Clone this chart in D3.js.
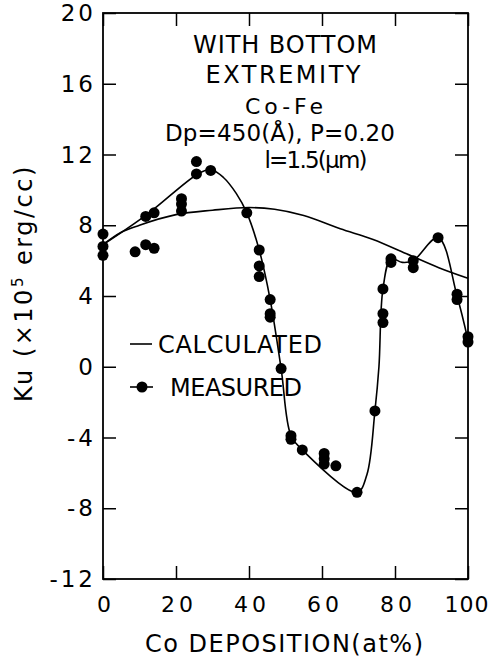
<!DOCTYPE html>
<html>
<head>
<meta charset="utf-8">
<script src="https://cdn.jsdelivr.net/npm/d3@7"></script>
<style>
  body { margin: 0; background: #fff; }
  text { font-family: 'DejaVu Sans', sans-serif; fill: #000; }
</style>
</head>
<body>
<div id="chart"></div>
<script>
// tick values
const xTicks = [0, 20, 40, 60, 80, 100]
const yTicks = [-12, -8, -4, 0, 4, 8, 12, 16, 20]

// measured points (Co at%, Ku x1e5 erg/cc)
const measuredX = [0, 0, 0, 8.8, 11.7, 14, 11.7, 14, 21.5, 21.5, 21.5, 25.6, 25.6, 29.5,
  39.4, 42.8, 42.8, 42.8, 45.8, 45.8, 45.8, 48.8, 51.5, 51.5, 54.6, 60.6, 60.6, 60.6,
  63.8, 69.6, 74.5, 76.7, 76.7, 76.7, 78.9, 78.9, 85, 85, 91.8, 97, 97, 100, 100]
const measuredY = [7.5, 6.8, 6.3, 6.5, 6.9, 6.7, 8.5, 8.7, 9.5, 9.2, 8.8, 11.6, 10.9, 11.1,
  8.7, 6.6, 5.7, 5.1, 3.8, 3.0, 2.8, -0.1, -3.9, -4.1, -4.7, -4.9, -5.2, -5.5,
  -5.6, -7.1, -2.5, 4.4, 3.0, 2.5, 6.1, 5.9, 6.0, 5.6, 7.3, 4.1, 3.8, 1.7, 1.4]

// line drawn through the measured points
const fitX = [0, 12, 26, 29.5, 33, 36.5, 39.4, 42.8, 45.8, 48.8, 51.5, 54.6, 69.6,
  72.3, 74.5, 75.6, 76.7, 78.9, 82, 85, 91.8, 97, 100]
const fitY = [6.9, 8.6, 10.9, 11.15, 10.7, 9.8, 8.7, 6.6, 3.8, -0.1, -3.9, -4.7, -7.1,
  -6.1, -2.5, 0, 4.4, 6.1, 5.9, 6.0, 7.3, 4.0, 1.5]

// calculated curve
const calcX = [0, 5, 10, 20, 30, 40, 47, 55, 65, 74, 83, 92, 100]
const calcY = [6.9, 7.6, 8.0, 8.6, 8.85, 9.0, 8.9, 8.55, 7.8, 7.2, 6.4, 5.6, 5.0]

const canvasWidth = 491
const canvasHeight = 660
const plotLeft = 103, plotRight = 468, plotTop = 13, plotBottom = 579
const tickLen = 13

const xScale = d3.scaleLinear().domain([0, 100]).range([plotLeft, plotRight])
const yScale = d3.scaleLinear().domain([-12, 20]).range([plotBottom, plotTop])

const svg = d3.select('#chart')
  .append('svg')
  .attr('width', canvasWidth)
  .attr('height', canvasHeight)

// frame with inward ticks on all four sides
svg.append('rect')
  .attr('x', plotLeft).attr('y', plotTop)
  .attr('width', plotRight - plotLeft).attr('height', plotBottom - plotTop)
  .attr('fill', 'none').attr('stroke', '#000').attr('stroke-width', 1.8)

const tidy = g => {
  g.select('.domain').remove()
  g.selectAll('.tick line').attr('stroke', '#000').attr('stroke-width', 1.5)
}

svg.append('g')
  .attr('transform', `translate(0, ${plotBottom})`)
  .call(d3.axisBottom(xScale).tickValues(xTicks).tickSize(-tickLen).tickFormat(''))
  .call(tidy)
svg.append('g')
  .attr('transform', `translate(0, ${plotTop})`)
  .call(d3.axisTop(xScale).tickValues(xTicks).tickSize(-tickLen).tickFormat(''))
  .call(tidy)
svg.append('g')
  .attr('transform', `translate(${plotLeft}, 0)`)
  .call(d3.axisLeft(yScale).tickValues(yTicks).tickSize(-tickLen).tickFormat(''))
  .call(tidy)
svg.append('g')
  .attr('transform', `translate(${plotRight}, 0)`)
  .call(d3.axisRight(yScale).tickValues(yTicks).tickSize(-tickLen).tickFormat(''))
  .call(tidy)

// tick labels
svg.append('g')
  .selectAll('text')
  .data(xTicks)
  .enter()
  .append('text')
  .attr('x', d => xScale(d) + (d === 100 ? -1 : 3))
  .attr('y', 612)
  .attr('font-size', 22)
  .attr('letter-spacing', d => d === 100 ? 1 : 4)
  .style('text-anchor', 'middle')
  .text(d => d)

svg.append('g')
  .selectAll('text')
  .data(yTicks)
  .enter()
  .append('text')
  .attr('x', 96)
  .attr('y', d => yScale(d) + 8)
  .attr('font-size', 23)
  .attr('letter-spacing', 3)
  .style('text-anchor', 'end')
  .text(d => d)

// axis titles
svg.append('text')
  .attr('x', 145).attr('y', 652)
  .attr('font-size', 24)
  .attr('textLength', 278).attr('lengthAdjust', 'spacing')
  .text('Co DEPOSITION(at%)')

const yTitle = svg.append('text')
  .attr('transform', 'translate(32, 402) rotate(-90)')
  .attr('font-size', 24)
  .attr('letter-spacing', 2.5)
yTitle.append('tspan').text('Ku (×10')
yTitle.append('tspan').attr('font-size', 15).attr('dy', -9).text('5')
yTitle.append('tspan').attr('dy', 9).text(' erg/cc)')

// annotation block
const notes = [
  {t: 'WITH BOTTOM', x: 285, y: 53, w: 184, s: 24},
  {t: 'EXTREMITY', x: 283, y: 83, w: 155, s: 24},
  {t: 'Co-Fe', x: 284, y: 114, w: 78, s: 22},
  {t: 'Dp=450(Å), P=0.20', x: 280, y: 141, w: 230, s: 23},
  {t: 'l=1.5(μm)', x: 316, y: 168, w: 103, s: 23},
]
svg.append('g')
  .selectAll('text')
  .data(notes)
  .enter()
  .append('text')
  .attr('x', d => d.x)
  .attr('y', d => d.y)
  .attr('font-size', d => d.s)
  .attr('textLength', d => d.w)
  .attr('lengthAdjust', 'spacing')
  .style('text-anchor', 'middle')
  .text(d => d.t)

// curves
const calcLine = d3.line()
  .x(d => xScale(d[0]))
  .y(d => yScale(d[1]))
  .curve(d3.curveMonotoneX)

svg.append('path')
  .datum(calcX.map((x, i) => [x, calcY[i]]))
  .attr('d', calcLine)
  .attr('fill', 'none').attr('stroke', '#000').attr('stroke-width', 1.6)

const fitLine = d3.line()
  .x(d => xScale(d[0]))
  .y(d => yScale(d[1]))
  .curve(d3.curveCatmullRom.alpha(0.5))

svg.append('path')
  .datum(fitX.map((x, i) => [x, fitY[i]]))
  .attr('d', fitLine)
  .attr('fill', 'none').attr('stroke', '#000').attr('stroke-width', 1.6)

svg.append('g')
  .selectAll('circle')
  .data(measuredX.map((x, i) => [x, measuredY[i]]))
  .enter()
  .append('circle')
  .attr('cx', d => xScale(d[0]))
  .attr('cy', d => yScale(d[1]))
  .attr('r', 5.5)
  .attr('fill', '#000')

// legend
const legend = svg.append('g')
legend.append('line')
  .attr('x1', 130).attr('x2', 152).attr('y1', 344).attr('y2', 344)
  .attr('stroke', '#000').attr('stroke-width', 1.6)
legend.append('text')
  .attr('x', 158).attr('y', 353)
  .attr('font-size', 24)
  .attr('textLength', 164).attr('lengthAdjust', 'spacing')
  .text('CALCULATED')
legend.append('line')
  .attr('x1', 130).attr('x2', 153).attr('y1', 387).attr('y2', 387)
  .attr('stroke', '#000').attr('stroke-width', 1.6)
legend.append('circle')
  .attr('cx', 142).attr('cy', 387).attr('r', 5.5).attr('fill', '#000')
legend.append('text')
  .attr('x', 170).attr('y', 396)
  .attr('font-size', 24)
  .attr('textLength', 132).attr('lengthAdjust', 'spacing')
  .text('MEASURED')
</script>
</body>
</html>
